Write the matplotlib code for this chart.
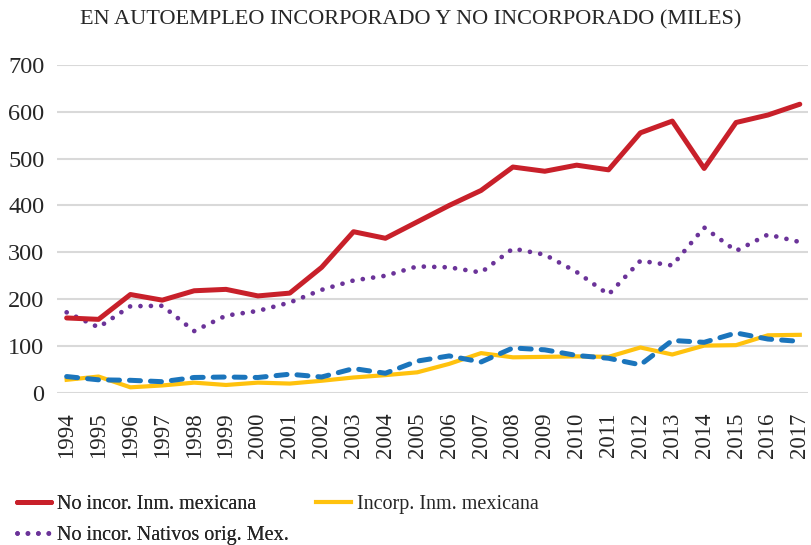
import matplotlib
matplotlib.use("Agg")
import matplotlib.pyplot as plt

years = list(range(1994, 2018))
no_incor_inm = [160, 157, 210, 198, 218, 221, 207, 213, 268, 344, 330, 365, 400, 432, 482, 473, 486, 476, 555, 580, 479, 577, 593, 616]
incorp_inm = [28, 35, 12, 16, 22, 17, 22, 20, 26, 33, 38, 44, 62, 85, 76, 77, 78, 77, 97, 82, 101, 102, 123, 124]
no_incor_nat = [172, 140, 185, 186, 132, 165, 175, 193, 220, 240, 250, 270, 268, 257, 308, 295, 258, 210, 282, 272, 353, 303, 338, 322]
incorp_nat = [35, 28, 27, 24, 33, 34, 33, 40, 34, 52, 42, 68, 79, 66, 96, 92, 80, 74, 60, 112, 108, 128, 115, 110]
yticks = [0, 100, 200, 300, 400, 500, 600, 700]
title = "EN AUTOEMPLEO INCORPORADO Y NO INCORPORADO (MILES)"

plt.rcParams['font.family'] = ['Liberation Serif', 'DejaVu Serif']

fig = plt.figure(figsize=(8.11, 5.45), dpi=100)
ax = fig.add_axes([0.070, 0.279, 0.926, 0.602])

red = '#c8202a'
yellow = '#ffc20e'
purple = '#6b3399'
blue = '#1b75bc'

l1, = ax.plot(years, no_incor_inm, color=red, lw=3.6, solid_capstyle='round', label='No incor. Inm. mexicana', zorder=4)
l4, = ax.plot(years, incorp_nat, color=blue, lw=3.6, dashes=(2.2, 2.0), dash_capstyle='round', label='_nolegend_', zorder=3)
l2, = ax.plot(years, incorp_inm, color=yellow, lw=3.0, label='Incorp. Inm. mexicana', zorder=2)
l3, = ax.plot(years, no_incor_nat, color=purple, lw=3.4, dashes=(0.01, 2.2), dash_capstyle='round', label='No incor. Nativos orig. Mex.', zorder=3)

ax.set_xlim(1993.69, 2017.25)
ax.set_ylim(0, 700)
ax.set_yticks(yticks)
ax.set_xticks(years)
ax.set_xticklabels([str(y) for y in years], rotation=90)
ax.tick_params(axis='y', labelsize=17.5, length=0, pad=9, labelcolor='#262626')
ax.tick_params(axis='x', labelsize=16.5, length=0, pad=14, labelcolor='#262626')
ax.grid(axis='y', color='#d9d9d9', lw=1.5)
ax.set_axisbelow(True)
for s in ax.spines.values():
    s.set_visible(False)

fig.text(0.507, 0.963, title, ha='center', va='center', fontsize=16, color='#262626')

leg_kw = dict(loc='upper left', frameon=False, fontsize=14.5, handlelength=1.7,
              handletextpad=0.3, labelspacing=0.6, borderpad=0, borderaxespad=0,
              labelcolor='#262626')
leg1 = fig.legend(handles=[l1, l3], labels=[l1.get_label(), l3.get_label()],
                  bbox_to_anchor=(0.021, 0.092), **leg_kw)
fig.add_artist(leg1)
leg2 = fig.legend(handles=[l2], labels=[l2.get_label()],
                  bbox_to_anchor=(0.39, 0.092), **leg_kw)

fig.savefig('out.png', dpi=100)
